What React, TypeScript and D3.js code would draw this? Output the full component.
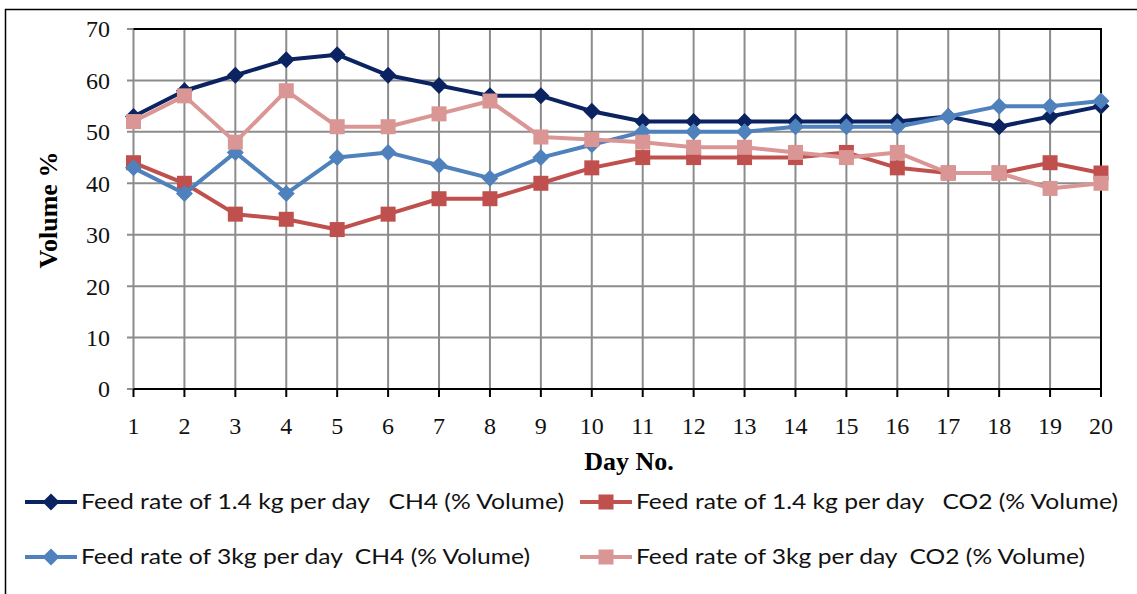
import { useEffect, useRef } from 'react';
import * as d3 from 'd3';

const days = d3.range(1, 21);
const ch4Low = [53, 58, 61, 64, 65, 61, 59, 57, 57, 54, 52, 52, 52, 52, 52, 52, 53, 51, 53, 55];
const co2Low = [44, 40, 34, 33, 31, 34, 37, 37, 40, 43, 45, 45, 45, 45, 46, 43, 42, 42, 44, 42];
const ch4High = [43, 38, 46, 38, 45, 46, 43.5, 41, 45, 47.5, 50, 50, 50, 51, 51, 51, 53, 55, 55, 56];
const co2High = [52, 57, 48, 58, 51, 51, 53.5, 56, 49, 48.5, 48, 47, 47, 46, 45, 46, 42, 42, 39, 40];
const yTicks = [0, 10, 20, 30, 40, 50, 60, 70];

const seriesList = [
  { name: 'Feed rate of 1.4 kg per day   CH4 (% Volume)', values: ch4Low, color: '#0b2361', shape: 'diamond' },
  { name: 'Feed rate of 1.4 kg per day   CO2 (% Volume)', values: co2Low, color: '#c0504d', shape: 'square' },
  { name: 'Feed rate of 3kg per day  CH4 (% Volume)', values: ch4High, color: '#4f81bd', shape: 'diamond' },
  { name: 'Feed rate of 3kg per day  CO2 (% Volume)', values: co2High, color: '#d99694', shape: 'square' },
];

const W = 1137;
const H = 594;

export default function App() {
  const svgRef = useRef(null);

  useEffect(() => {
    const svg = d3.select(svgRef.current);
    svg.selectAll('*').remove();

    const x = d3.scaleLinear().domain([1, 20]).range([133.5, 1101]);
    const y = d3.scaleLinear().domain([0, 70]).range([389, 29]);
    const serif = '"Liberation Serif", "DejaVu Serif", serif';
    const sans = 'Lato, "Open Sans", sans-serif';

    // outer frame
    svg.append('line').attr('x1', 5).attr('x2', W).attr('y1', 9.5).attr('y2', 9.5)
      .attr('stroke', '#000').attr('stroke-width', 1.5);
    svg.append('line').attr('x1', 5.5).attr('x2', 5.5).attr('y1', 9).attr('y2', H)
      .attr('stroke', '#000').attr('stroke-width', 1.5);

    const g = svg.append('g');

    // grid
    g.selectAll('.hg').data(yTicks).enter().append('line')
      .attr('x1', 127).attr('x2', x(20))
      .attr('y1', d => y(d)).attr('y2', d => y(d))
      .attr('stroke', '#8c8c8c').attr('stroke-width', 2);
    g.selectAll('.vg').data(days).enter().append('line')
      .attr('x1', d => x(d)).attr('x2', d => x(d))
      .attr('y1', y(70)).attr('y2', y(0))
      .attr('stroke', '#8c8c8c').attr('stroke-width', 2);

    // frame: top, right, bottom
    g.append('path')
      .attr('d', `M${x(1)},${y(70)}H${x(20)}V${y(0)}H${x(1)}`)
      .attr('fill', 'none').attr('stroke', '#000').attr('stroke-width', 2);
    g.selectAll('.xt').data(days).enter().append('line')
      .attr('x1', d => x(d)).attr('x2', d => x(d))
      .attr('y1', y(0)).attr('y2', y(0) + 8)
      .attr('stroke', '#000').attr('stroke-width', 2);

    // tick labels
    g.selectAll('.yl').data(yTicks).enter().append('text')
      .attr('x', 110).attr('y', d => y(d)).attr('dy', '0.35em')
      .attr('text-anchor', 'end').attr('font-family', serif).attr('font-size', 24)
      .attr('fill', '#111').text(d => d);
    g.selectAll('.xl').data(days).enter().append('text')
      .attr('x', d => x(d)).attr('y', 426).attr('dy', '0.35em')
      .attr('text-anchor', 'middle').attr('font-family', serif).attr('font-size', 24)
      .attr('fill', '#111').text(d => d);

    // axis titles
    g.append('text').attr('transform', 'translate(57,210) rotate(-90)')
      .attr('text-anchor', 'middle').attr('font-family', serif).attr('font-size', 26)
      .attr('font-weight', 'bold').text('Volume %');
    g.append('text').attr('x', 629).attr('y', 470)
      .attr('text-anchor', 'middle').attr('font-family', serif).attr('font-size', 26)
      .attr('font-weight', 'bold').text('Day No.');

    const line = d3.line().x((d, i) => x(days[i])).y(d => y(d));

    const marker = (sel, shape, color, cx, cy) => {
      if (shape === 'diamond') {
        sel.append('path')
          .attr('d', `M${cx},${cy - 8.5}L${cx + 8.5},${cy}L${cx},${cy + 8.5}L${cx - 8.5},${cy}Z`)
          .attr('fill', color);
      } else {
        sel.append('rect').attr('x', cx - 7.5).attr('y', cy - 7.5)
          .attr('width', 15).attr('height', 15).attr('fill', color);
      }
    };

    seriesList.forEach(s => {
      const sg = g.append('g');
      sg.append('path').datum(s.values).attr('d', line)
        .attr('fill', 'none').attr('stroke', s.color).attr('stroke-width', 4)
        .attr('stroke-linejoin', 'round');
      s.values.forEach((v, i) => marker(sg, s.shape, s.color, x(days[i]), y(v)));
    });

    // legend
    const legendPos = [
      { lx: 25, ty: 502 },
      { lx: 580, ty: 502 },
      { lx: 25, ty: 557 },
      { lx: 580, ty: 557 },
    ];
    const legendWidths = [483, 482, 449, 449];
    seriesList.forEach((s, i) => {
      const p = legendPos[i];
      const lg = g.append('g');
      lg.append('line').attr('x1', p.lx).attr('x2', p.lx + 52)
        .attr('y1', p.ty).attr('y2', p.ty)
        .attr('stroke', s.color).attr('stroke-width', 4);
      marker(lg, s.shape, s.color, p.lx + 26, p.ty);
      lg.append('text').attr('x', p.lx + 56).attr('y', p.ty).attr('dy', '0.35em')
        .attr('font-family', sans).attr('font-size', 21).attr('fill', '#111')
        .style('white-space', 'pre')
        .attr('textLength', legendWidths[i]).attr('lengthAdjust', 'spacingAndGlyphs')
        .text(s.name);
    });
  }, []);

  return (
    <svg ref={svgRef} width={W} height={H}
      style={{ position: 'absolute', left: 0, top: 0, background: '#fff' }} />
  );
}
